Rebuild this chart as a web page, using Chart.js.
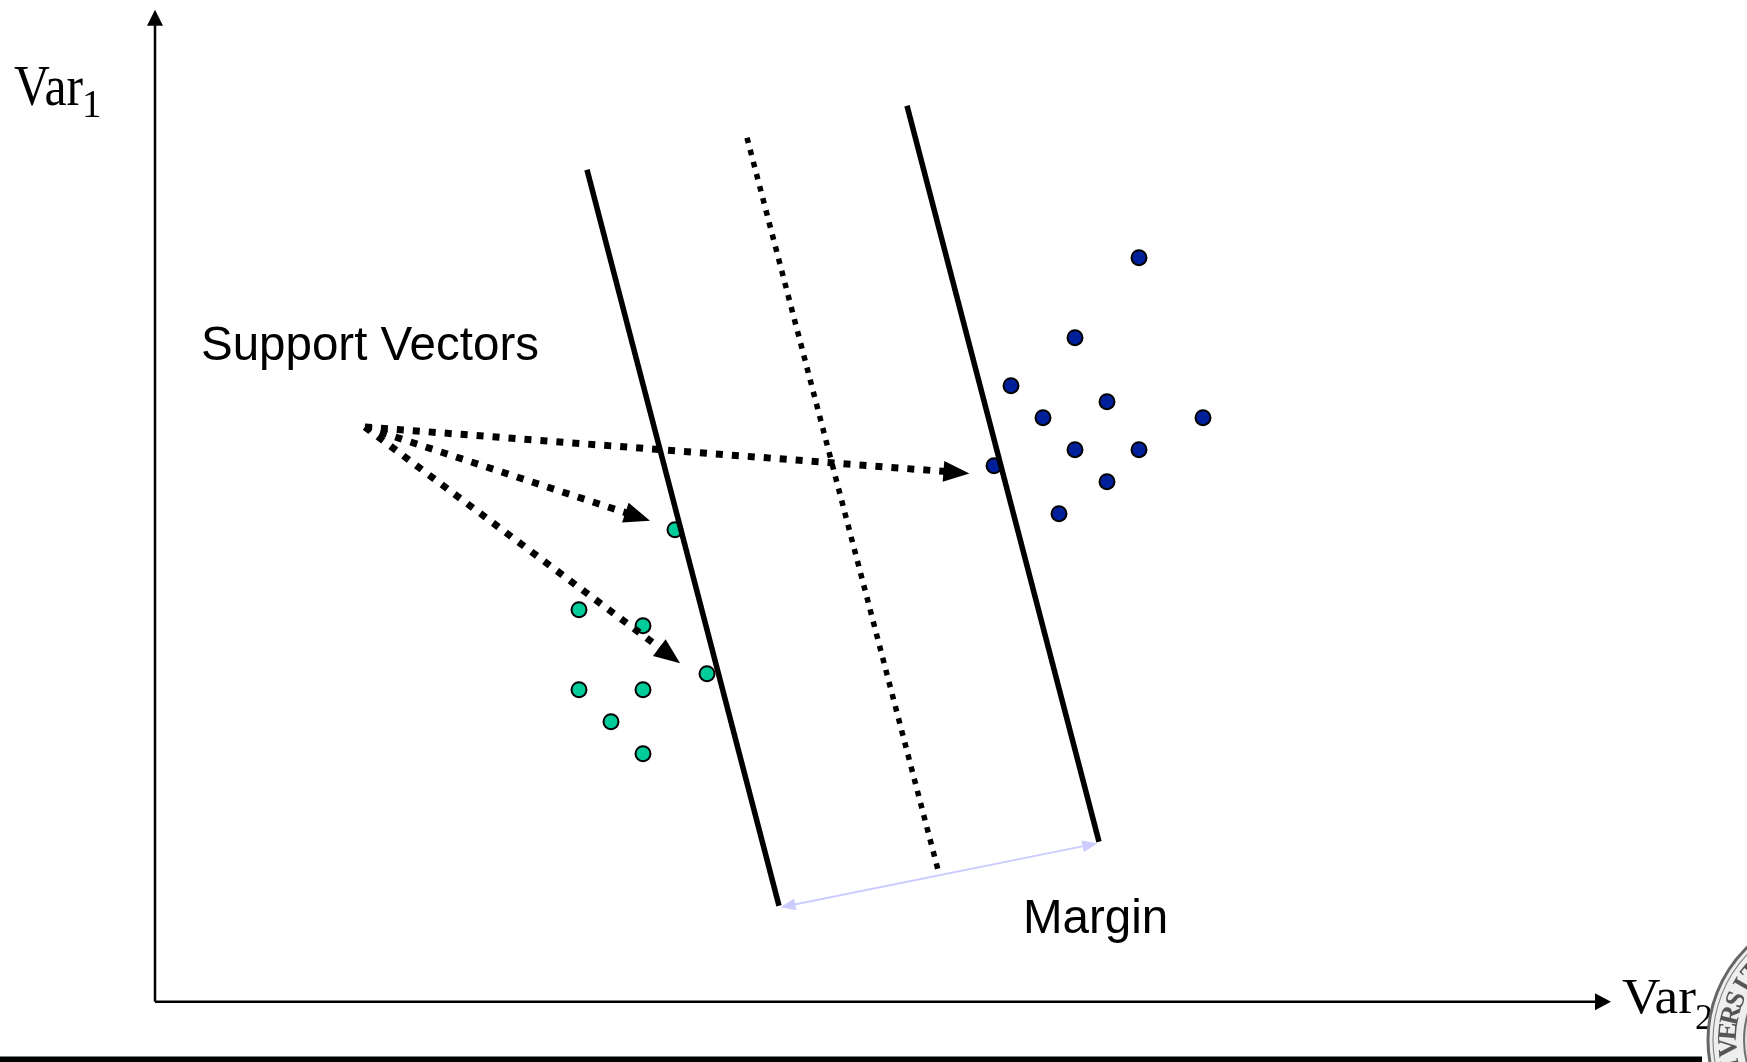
<!DOCTYPE html>
<html>
<head>
<meta charset="utf-8">
<title>SVM – Support Vectors and Margin</title>
<script src="https://cdn.jsdelivr.net/npm/chart.js@4.4.1/dist/chart.umd.min.js"></script>
<style>
  html, body { margin: 0; padding: 0; background: #ffffff; overflow: hidden; }
  #c { display: block; }
</style>
</head>
<body>
<canvas id="c" width="1747" height="1062" style="width:1747px;height:1062px"></canvas>
<script>
// ---------------- data (Var2 on x, Var1 on y) ----------------
// class A (green points, left of the margin)
const classAX = [16.25, 13.25, 15.25, 17.25, 13.25, 15.25, 14.25, 15.25];
const classAY = [14.75, 12.25, 11.75, 10.25, 9.75, 9.75, 8.75, 7.75];
// class B (blue points, right of the margin)
const classBX = [30.75, 28.75, 26.75, 29.75, 27.75, 32.75, 28.75, 30.75, 26.22, 29.75, 28.25];
const classBY = [23.25, 20.75, 19.25, 18.75, 18.25, 18.25, 17.25, 17.25, 16.75, 16.25, 15.25];
// margin boundaries and separating hyperplane (top end, bottom end)
const lowerBoundX = [13.5, 19.5];
const lowerBoundY = [26, 3];
const hyperplaneX = [18.5, 24.5];
const hyperplaneY = [27, 4];
const upperBoundX = [23.5, 29.5];
const upperBoundY = [28, 5];
// "Support Vectors" arrows: common start, three targets
const svArrowStartX = [6.56];
const svArrowStartY = [17.96];
const svArrowEndX = [25.45, 15.47, 16.41];
const svArrowEndY = [16.51, 15.03, 10.58];
// margin width arrow
const marginArrowX = [19.55, 29.45];
const marginArrowY = [2.95, 4.95];
// axes (origin and arrow tips)
const axisXEnd = [45.5];
const axisYEnd = [31];
// texts
const labelSupport = 'Support Vectors';
const labelMargin = 'Margin';
const axisLabelY = ['Var', '1'];
const axisLabelX = ['Var', '2'];
const sealText = 'SIGILLVM VNIVERSITATIS';

const toPts = (xs, ys) => xs.map((v, i) => ({ x: v, y: ys[i] }));

// --------------- helpers ----------------
function arrowHead(ctx, x, y, ang, L, W) {
  const c = Math.cos(ang), s = Math.sin(ang);
  ctx.beginPath();
  ctx.moveTo(x, y);
  ctx.lineTo(x - L * c + W * s, y - L * s - W * c);
  ctx.lineTo(x - L * c - W * s, y - L * s + W * c);
  ctx.closePath();
  ctx.fill();
}
function arrow(ctx, x0, y0, x1, y1, o) {
  const ang = Math.atan2(y1 - y0, x1 - x0);
  const c = Math.cos(ang), s = Math.sin(ang);
  const sx = o.both ? x0 + c * o.L * 0.7 : x0, sy = o.both ? y0 + s * o.L * 0.7 : y0;
  const ex = x1 - c * o.L * 0.7, ey = y1 - s * o.L * 0.7;
  ctx.save();
  ctx.strokeStyle = o.color; ctx.fillStyle = o.color;
  ctx.lineWidth = o.width; ctx.lineCap = 'butt';
  ctx.setLineDash(o.dash || []);
  ctx.beginPath(); ctx.moveTo(sx, sy); ctx.lineTo(ex, ey); ctx.stroke();
  ctx.setLineDash([]);
  arrowHead(ctx, x1, y1, ang, o.L, o.W);
  if (o.both) arrowHead(ctx, x0, y0, ang + Math.PI, o.L, o.W);
  ctx.restore();
}
function fitText(ctx, txt, x, y, font, width) {
  ctx.save();
  ctx.font = font;
  const w = ctx.measureText(txt).width;
  ctx.translate(x, y);
  if (width) ctx.scale(width / w, 1);
  ctx.fillText(txt, 0, 0);
  ctx.restore();
}

const annot = {
  id: 'annot',
  beforeDatasetsDraw(chart) {
    const { ctx, scales: { x, y } } = chart;
    const ox = x.getPixelForValue(0), oy = y.getPixelForValue(0);
    // axes with arrow heads
    ctx.save();
    ctx.strokeStyle = '#000'; ctx.fillStyle = '#000'; ctx.lineWidth = 2.5;
    const ty = y.getPixelForValue(axisYEnd[0]);
    const tx = x.getPixelForValue(axisXEnd[0]);
    ctx.beginPath(); ctx.moveTo(ox, oy); ctx.lineTo(ox, ty + 12); ctx.stroke();
    arrowHead(ctx, ox, ty, -Math.PI / 2, 16, 8);
    ctx.beginPath(); ctx.moveTo(ox, oy); ctx.lineTo(tx - 12, oy); ctx.stroke();
    arrowHead(ctx, tx, oy, 0, 16, 8.5);
    ctx.restore();
  },
  afterDatasetsDraw(chart) {
    const { ctx, scales: { x, y } } = chart;
    const px = v => x.getPixelForValue(v), py = v => y.getPixelForValue(v);
    // support-vector arrows
    for (let i = 0; i < svArrowEndX.length; i++) {
      arrow(ctx, px(svArrowStartX[0]), py(svArrowStartY[0]), px(svArrowEndX[i]), py(svArrowEndY[i]),
        { color: '#000', width: 7, dash: [7, 9], L: 26, W: 10.5 });
    }
    // margin arrow
    arrow(ctx, px(marginArrowX[0]), py(marginArrowY[0]), px(marginArrowX[1]), py(marginArrowY[1]),
      { color: '#CCCCFF', width: 2, L: 15, W: 6, both: true });

    // texts
    ctx.save();
    ctx.fillStyle = '#000';
    ctx.textBaseline = 'alphabetic';
    ctx.textAlign = 'left';
    fitText(ctx, labelSupport, 201, 360, '47.5px "Liberation Sans", Arial, sans-serif');
    fitText(ctx, labelMargin, 1023, 933, '47.5px "Liberation Sans", Arial, sans-serif');
    fitText(ctx, axisLabelY[0], 14, 105, '56px "Liberation Serif", "Times New Roman", serif', 69);
    fitText(ctx, axisLabelY[1], 82, 117, '39px "Liberation Serif", "Times New Roman", serif');
    fitText(ctx, axisLabelX[0], 1622, 1013, '51px "Liberation Serif", "Times New Roman", serif', 74);
    fitText(ctx, axisLabelX[1], 1695, 1029, '36px "Liberation Serif", "Times New Roman", serif');
    ctx.restore();

    // bottom rule
    ctx.save();
    ctx.fillStyle = '#000';
    ctx.fillRect(0, 1056.5, 1702, 5.5);
    ctx.restore();

    // university seal (partially visible)
    const cx = 1837, cy = 1040, R = 129;
    ctx.save();
    ctx.beginPath(); ctx.rect(0, 0, chart.width, chart.height); ctx.clip();
    ctx.beginPath(); ctx.arc(cx, cy, R, 0, Math.PI * 2);
    ctx.fillStyle = '#eeeeee'; ctx.fill();
    ctx.lineWidth = 3; ctx.strokeStyle = '#666666'; ctx.stroke();
    ctx.beginPath(); ctx.arc(cx, cy, R - 5, 0, Math.PI * 2);
    ctx.lineWidth = 1.2; ctx.strokeStyle = '#888888'; ctx.stroke();
    ctx.beginPath(); ctx.arc(cx, cy, R - 36, 0, Math.PI * 2);
    ctx.fillStyle = '#dddddd'; ctx.fill();
    ctx.lineWidth = 2; ctx.strokeStyle = '#707070'; ctx.stroke();
    // lettering along the rim, clockwise, tops outward
    ctx.fillStyle = '#555555';
    ctx.font = 'bold 27px "Liberation Serif", serif';
    ctx.textAlign = 'center'; ctx.textBaseline = 'middle';
    const letters = sealText.split('');
    const vIdx = sealText.indexOf('VERSI');
    const step = 8.6 * Math.PI / 180;
    const a0 = 176 * Math.PI / 180 - vIdx * step;
    letters.forEach((ch, i) => {
      const a = a0 + i * step;
      const r = R - 21;
      ctx.save();
      ctx.translate(cx + r * Math.cos(a), cy + r * Math.sin(a));
      ctx.rotate(a + Math.PI / 2);
      ctx.fillText(ch, 0, 0);
      ctx.restore();
    });
    ctx.restore();
  }
};

// pixel grid: 32 px per unit, origin at the axes' crossing
const UNIT = 32, W = 1747, H = 1062, OX = 155, OY = 1001.7;

new Chart(document.getElementById('c'), {
  type: 'scatter',
  data: {
    datasets: [
      { label: 'Class A', data: toPts(classAX, classAY), backgroundColor: '#00CC99',
        borderColor: '#000', borderWidth: 2, pointRadius: 7.5, pointHoverRadius: 7.5, order: 3 },
      { label: 'Class B', data: toPts(classBX, classBY), backgroundColor: '#00209A',
        borderColor: '#000', borderWidth: 2, pointRadius: 7.5, pointHoverRadius: 7.5, order: 3 },
      { label: 'Margin boundary (lower)', data: toPts(lowerBoundX, lowerBoundY), showLine: true,
        borderColor: '#000', borderWidth: 5.5, pointRadius: 0, pointHoverRadius: 0, order: 1 },
      { label: 'Hyperplane', data: toPts(hyperplaneX, hyperplaneY), showLine: true,
        borderColor: '#000', borderWidth: 5.5, borderDash: [5.5, 7], pointRadius: 0, pointHoverRadius: 0, order: 1 },
      { label: 'Margin boundary (upper)', data: toPts(upperBoundX, upperBoundY), showLine: true,
        borderColor: '#000', borderWidth: 5.5, pointRadius: 0, pointHoverRadius: 0, order: 1 }
    ]
  },
  options: {
    responsive: false,
    animation: false,
    devicePixelRatio: 1,
    events: [],
    layout: { padding: 0, autoPadding: false },
    plugins: { legend: { display: false }, tooltip: { enabled: false }, title: { display: false } },
    scales: {
      x: { type: 'linear', display: false, min: -OX / UNIT, max: (W - OX) / UNIT },
      y: { type: 'linear', display: false, min: -(H - OY) / UNIT, max: OY / UNIT }
    }
  },
  plugins: [annot]
});
</script>
</body>
</html>
